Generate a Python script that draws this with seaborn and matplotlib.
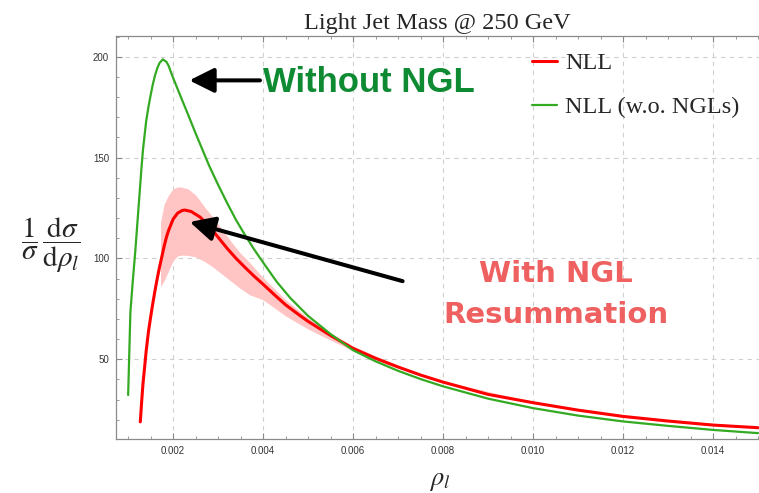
import numpy as np
import pandas as pd
import matplotlib
matplotlib.use("Agg")
import matplotlib.pyplot as plt
from matplotlib.ticker import FixedLocator, MultipleLocator
import seaborn as sns

# ---- data ----
red_x = [0.00127, 0.00130, 0.00133, 0.00137, 0.00140, 0.00145, 0.00150, 0.00155, 0.00160,
         0.00165, 0.00170, 0.00175, 0.00180, 0.00185, 0.00190, 0.00200, 0.00210, 0.00220,
         0.00226, 0.00240, 0.00260, 0.00280, 0.00300, 0.00320, 0.00340, 0.00360, 0.00380,
         0.00400, 0.00430, 0.00450, 0.00480, 0.00500, 0.00550, 0.00600, 0.00650, 0.00700,
         0.00750, 0.00800, 0.00900, 0.01000, 0.01100, 0.01200, 0.01300, 0.01400, 0.01500]
red_y = [19, 29, 38, 47, 54, 63.5, 71, 78, 84.5,
         90.5, 96, 101, 106, 110.5, 114, 119.5, 122.5, 123.8,
         124, 123.3, 120.5, 116, 110.5, 105, 100, 95.5, 91.2,
         87.2, 81, 77, 72, 68.8, 61.8, 55.4, 50.5, 46.2,
         42.2, 38.7, 32.6, 28.5, 24.8, 21.7, 19.4, 17.4, 16.1]

green_x = [0.00100, 0.00105, 0.00110, 0.00116, 0.00122, 0.00127, 0.00130, 0.00133, 0.00140,
           0.00145, 0.00150, 0.00155, 0.00160, 0.00165, 0.00170, 0.00177, 0.00185, 0.00190,
           0.00200, 0.00210, 0.00220, 0.00232, 0.00250, 0.00265, 0.00280, 0.00300, 0.00320,
           0.00340, 0.00360, 0.00380, 0.00400, 0.00430, 0.00460, 0.00500, 0.00550, 0.00600,
           0.00650, 0.00700, 0.00750, 0.00800, 0.00900, 0.01000, 0.01100, 0.01200, 0.01300,
           0.01400, 0.01500]
green_y = [32.3, 73.5, 88, 104, 122, 137, 146, 154, 168,
           175, 181, 186.5, 191, 194.5, 197, 198.7, 197.5, 195.5,
           189.5, 184, 178.5, 172, 162, 154, 146, 136.5, 127.5,
           119, 111.5, 104.5, 98, 88.5, 80.5, 71.5, 62.5, 54.5,
           49, 44.3, 40.2, 36.6, 30.5, 25.8, 22.1, 19.2, 17,
           15, 13.4]

band_x = [0.00172, 0.0018, 0.0019, 0.0020, 0.0021, 0.0022, 0.00233, 0.0025, 0.0027, 0.0029,
          0.0031, 0.0033, 0.0035, 0.0037, 0.0040, 0.0045, 0.0050, 0.0055, 0.0060, 0.0070,
          0.0080, 0.0100, 0.0120, 0.0150]
band_lo = [86, 89, 94, 99, 101.3, 101.7, 101.5, 100.8, 98.5, 95.5,
           92, 88.5, 85, 82, 79.5, 71.5, 65, 59.5, 54.2, 45.6,
           38.2, 28.1, 21.3, 15.8]
band_hi = [118, 127, 131.5, 134.5, 135.5, 135.3, 134.5, 131.5, 125.5, 120,
           114, 108, 102.5, 98, 90.5, 79.5, 70.5, 63, 56.6, 46.8,
           39.2, 28.9, 22.1, 16.4]

x_ticks = [0.002, 0.004, 0.006, 0.008, 0.010, 0.012, 0.014]
x_labels = ["0.002", "0.004", "0.006", "0.008", "0.010", "0.012", "0.014"]
y_ticks = [50, 100, 150, 200]
y_labels = ["50", "100", "150", "200"]

series_labels = ["NLL", "NLL (w.o. NGLs)"]

# ---- styling ----
sns.set_style("ticks")
plt.rcParams["mathtext.fontset"] = "stix"

W, H = 759, 493
fig = plt.figure(figsize=(W / 100, H / 100), dpi=100)
ax = fig.add_axes([116 / W, 1 - 439 / H, 1 - 116 / W, (439 - 36) / H])

ax.fill_between(band_x, band_lo, band_hi, color="#ffc4c4", lw=0, zorder=1)

df_red = pd.DataFrame({"rho": red_x, "val": red_y})
df_green = pd.DataFrame({"rho": green_x, "val": green_y})
sns.lineplot(data=df_red, x="rho", y="val", color="#ff0000", lw=2.2,
             label=series_labels[0], ax=ax, zorder=3)
sns.lineplot(data=df_green, x="rho", y="val", color="#33aa22", lw=1.6,
             label=series_labels[1], ax=ax, zorder=4)

ax.set_xlim(0.00073, 0.01502)
ax.set_ylim(10.5, 210.3)

ax.xaxis.set_major_locator(FixedLocator(x_ticks))
ax.set_xticklabels(x_labels)
ax.yaxis.set_major_locator(FixedLocator(y_ticks))
ax.set_yticklabels(y_labels)
ax.xaxis.set_minor_locator(MultipleLocator(0.0005))
ax.yaxis.set_minor_locator(MultipleLocator(10))

ax.grid(True, which="major", ls=(0, (4, 4)), color="#d0d0d0", lw=0.8, zorder=0)
for s in ["left", "bottom", "top"]:
    ax.spines[s].set_color("#8a8a8a")
    ax.spines[s].set_linewidth(0.9)
ax.spines["right"].set_visible(False)
ax.tick_params(which="both", direction="in", top=True, right=False,
               color="#8a8a8a", labelsize=7, labelcolor="#333333")
ax.tick_params(which="major", length=4.3, width=0.8, pad=5)
ax.tick_params(which="minor", length=2.5, width=0.6)
for lab in ax.get_xticklabels() + ax.get_yticklabels():
    lab.set_family("Liberation Sans")

ax.set_xlabel(r"$\rho_l$", fontsize=19)
ax.xaxis.set_label_coords(0.504, -0.102)
ax.xaxis.label.set_va("center")
ax.set_ylabel(r"$\dfrac{1}{\sigma}\,\dfrac{\mathrm{d}\sigma}{\mathrm{d}\rho_l}$",
              fontsize=21, rotation=0, ha="center", va="center")
ax.yaxis.set_label_coords(-0.101, 0.48)

ax.set_title("Light Jet Mass @ 250 GeV", family="Liberation Serif", fontsize=17.5,
             pad=5)

leg = ax.legend(loc="upper left", frameon=False,
                prop={"family": "Liberation Serif", "size": 17.5},
                handlelength=1.03, handletextpad=0.34, labelspacing=0.92,
                borderpad=0.0, borderaxespad=0.0,
                bbox_to_anchor=(0.6465, 0.960))

# annotations
ax.annotate("", xy=(0.00236, 188.3), xytext=(0.00393, 188.3),
            arrowprops=dict(arrowstyle="-|>,head_length=1.0,head_width=0.5",
                            mutation_scale=15, lw=2.9, color="black",
                            shrinkA=0, shrinkB=0), zorder=6)
ax.text(0.00399, 182.7, "Without NGL", family="Liberation Sans", weight="bold",
        fontsize=25, color="#0d8a32", ha="left", va="baseline", zorder=6)

ax.annotate("", xy=(0.00237, 118.1), xytext=(0.0071, 88.75),
            arrowprops=dict(arrowstyle="-|>,head_length=1.0,head_width=0.5",
                            mutation_scale=15, lw=2.9, color="black",
                            shrinkA=0, shrinkB=0), zorder=6)
ax.text(0.0105, 88.4, "With NGL", family="DejaVu Sans", weight="bold",
        fontsize=21, color="#ef6060", ha="center", va="baseline", zorder=6)
ax.text(0.0105, 67.9, "Resummation", family="DejaVu Sans", weight="bold",
        fontsize=21, color="#ef6060", ha="center", va="baseline", zorder=6)

fig.savefig("out.png", dpi=100)
